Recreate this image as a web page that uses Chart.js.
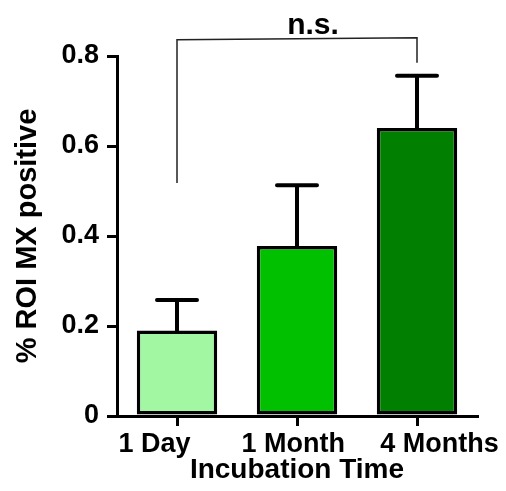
<!DOCTYPE html>
<html>
<head>
<meta charset="utf-8">
<script src="https://cdn.jsdelivr.net/npm/chart.js@4"></script>
<style>
  html, body { margin:0; padding:0; background:#fff; }
  #wrap { width:506px; height:491px; }
</style>
</head>
<body>
<div id="wrap"><canvas id="roiChart"></canvas></div>
<script>
// data
const categories = ["1 Day", "1 Month", "4 Months"];
const means = [0.19, 0.378, 0.64];
const errors = [0.068, 0.135, 0.116];
const barColors = ["#a2f7a2", "#00c000", "#007f00"];
const yTicks = [0, 0.2, 0.4, 0.6, 0.8];

// significance bracket: from/to category index, levels in data units
const bracketFrom = 0, bracketTo = 2;
const bracketTop = 0.836;
const bracketDrops = [0.518, 0.785];
const bracketLabel = "n.s.";

const FONT = "'Liberation Sans', Arial, sans-serif";

// the original labels sit a little off their ticks; nudge with spaces
const labelPad = [[0, 6], [0, 1], [6, 0]];

const errorBars = {
    id: "errorBars",
    afterDatasetsDraw(chart) {
        const ctx = chart.ctx;
        const y = chart.scales.y;
        const x = chart.scales.x;
        const meta = chart.getDatasetMeta(0);
        ctx.save();
        ctx.strokeStyle = "#000";
        ctx.lineWidth = 4;
        ctx.lineCap = "round";
        meta.data.forEach((bar, i) => {
            const top = y.getPixelForValue(means[i] + errors[i]);
            const base = y.getPixelForValue(means[i]);
            ctx.beginPath();
            ctx.moveTo(bar.x, base);
            ctx.lineTo(bar.x, top);
            ctx.moveTo(bar.x - 20, top);
            ctx.lineTo(bar.x + 20, top);
            ctx.stroke();
        });

        // n.s. bracket
        const x1 = x.getPixelForValue(bracketFrom);
        const x2 = x.getPixelForValue(bracketTo);
        const yTop = y.getPixelForValue(bracketTop);
        ctx.lineWidth = 1.5;
        ctx.lineCap = "butt";
        ctx.strokeStyle = "#222";
        ctx.beginPath();
        ctx.moveTo(x1, y.getPixelForValue(bracketDrops[0]));
        ctx.lineTo(x1, yTop);
        ctx.lineTo(x2, yTop - 2);
        ctx.lineTo(x2, y.getPixelForValue(bracketDrops[1]));
        ctx.stroke();

        ctx.fillStyle = "#000";
        ctx.font = "bold 30px " + FONT;
        ctx.textAlign = "center";
        ctx.textBaseline = "alphabetic";
        ctx.fillText(bracketLabel, (x1 + x2) / 2 + 16, yTop - 6);
        ctx.restore();
    }
};

new Chart(document.getElementById("roiChart"), {
    type: "bar",
    data: {
        labels: categories,
        datasets: [{
            data: means,
            backgroundColor: barColors,
            borderColor: "#000",
            borderWidth: 3.5,
            borderSkipped: false,
            barPercentage: 0.67,
            categoryPercentage: 1
        }]
    },
    options: {
        responsive: true,
        maintainAspectRatio: false,
        animation: false,
        layout: { padding: { top: 56, right: 29, left: 0, bottom: 0 } },
        plugins: {
            legend: { display: false },
            tooltip: { enabled: false }
        },
        scales: {
            x: {
                afterFit(scale) { scale.height = 75; },
                grid: {
                    offset: false,
                    drawOnChartArea: false,
                    tickLength: 10,
                    color: "#000",
                    lineWidth: 3
                },
                border: { color: "#000", width: 3 },
                ticks: {
                    color: "#000",
                    padding: 2,
                    autoSkip: false,
                    maxRotation: 0,
                    minRotation: 0,
                    font: { family: FONT, size: 27, weight: "bold" },
                    callback: (v, i) => " ".repeat(labelPad[i][0]) + categories[i] + " ".repeat(labelPad[i][1])
                },
                title: {
                    display: true,
                    text: "Incubation Time",
                    color: "#000",
                    padding: { top: 0, bottom: 7 },
                    font: { family: FONT, size: 28, weight: "bold", lineHeight: 1 }
                }
            },
            y: {
                min: 0,
                max: 0.8,
                afterFit(scale) { scale.width = 117; },
                afterBuildTicks(scale) {
                    scale.ticks = yTicks.map(v => ({ value: v }));
                },
                grid: {
                    drawOnChartArea: false,
                    tickLength: 10,
                    color: "#000",
                    lineWidth: 3
                },
                border: { color: "#000", width: 3 },
                ticks: {
                    color: "#000",
                    padding: 8,
                    font: { family: FONT, size: 27, weight: "bold" },
                    callback: v => String(v)
                },
                title: {
                    display: true,
                    text: "% ROI MX positive",
                    color: "#000",
                    padding: { top: 13, bottom: 0 },
                    font: { family: FONT, size: 29, weight: "bold", lineHeight: 1 }
                }
            }
        }
    },
    plugins: [errorBars]
});
</script>
</body>
</html>
